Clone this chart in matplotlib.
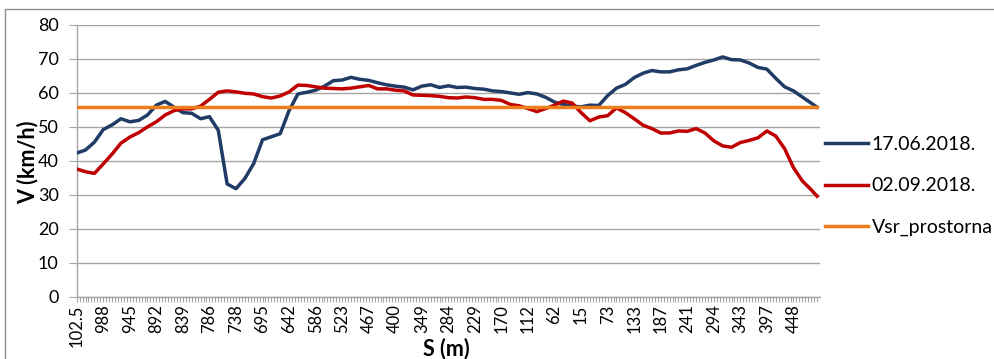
import numpy as np
import matplotlib
matplotlib.use("Agg")
import matplotlib.pyplot as plt
from matplotlib.patches import Rectangle

# Category axis: one category per measurement point, labelled every 9th
N_CATEGORIES = 252
LABEL_STEP = 9
s_labels = ["102.5", "988", "945", "892", "839", "786", "738", "695", "642",
            "586", "523", "467", "400", "349", "284", "229", "170", "112",
            "62", "15", "73", "133", "187", "241", "294", "343", "397", "448"]

# Speed profiles (km/h), sampled every 3rd point of the route plus the last one
v_17_06_2018 = [42.3, 43.2, 45.5, 49.2, 50.6, 52.4, 51.5, 51.9, 53.5, 56.4,
                57.5, 55.8, 54.2, 54.0, 52.4, 53.0, 49.0, 33.2, 31.8, 34.8,
                39.2, 46.2, 47.1, 48.0, 54.8, 59.7, 60.2, 60.8, 62.0, 63.6,
                63.8, 64.6, 64.0, 63.7, 63.0, 62.4, 62.0, 61.7, 60.9, 62.0,
                62.4, 61.6, 62.1, 61.6, 61.7, 61.3, 61.1, 60.6, 60.4, 60.0,
                59.6, 60.1, 59.7, 58.7, 57.3, 56.6, 56.1, 55.9, 56.4, 56.3,
                59.2, 61.4, 62.5, 64.5, 65.8, 66.6, 66.2, 66.2, 66.8, 67.1,
                68.1, 69.0, 69.7, 70.6, 69.8, 69.7, 68.8, 67.5, 67.0, 64.3,
                61.8, 60.6, 58.8, 57.0, 55.8]
v_02_09_2018 = [37.6, 36.8, 36.3, 39.1, 42.0, 45.2, 47.0, 48.3, 50.0, 51.5,
                53.5, 54.8, 55.3, 55.3, 56.1, 58.1, 60.2, 60.6, 60.3, 59.9,
                59.7, 58.9, 58.5, 59.1, 60.3, 62.3, 62.2, 61.8, 61.4, 61.3,
                61.2, 61.4, 61.8, 62.2, 61.2, 61.2, 60.8, 60.6, 59.4, 59.3,
                59.2, 59.0, 58.6, 58.5, 58.8, 58.6, 58.1, 58.1, 57.8, 56.6,
                56.2, 55.4, 54.5, 55.4, 56.4, 57.6, 57.0, 54.2, 51.8, 52.9,
                53.3, 55.6, 54.2, 52.4, 50.5, 49.5, 48.2, 48.2, 48.8, 48.7,
                49.5, 48.2, 45.9, 44.4, 44.0, 45.4, 46.0, 46.8, 48.8, 47.3,
                43.6, 38.0, 34.1, 31.5, 29.6]
v_sr_prostorna = 55.8

series_names = ["17.06.2018.", "02.09.2018.", "Vsr_prostorna"]
series_colors = ["#1F3B66", "#C00000", "#EE7D1C"]

plt.rcParams["font.family"] = ["Lato", "DejaVu Sans"]

fig = plt.figure(figsize=(9.94, 3.59), dpi=100)
W, H = 994, 359
ax = fig.add_axes([76.7 / W, 1 - 296.7 / H, (820 - 76.7) / W, (296.7 - 25) / H])

x_samples = np.r_[np.arange(0, N_CATEGORIES - 2, 3), N_CATEGORIES - 1]
x_all = np.arange(N_CATEGORIES)

ax.plot(x_samples, v_17_06_2018, color=series_colors[0], lw=2.5,
        solid_joinstyle="round", label=series_names[0], zorder=3)
ax.plot(x_samples, v_02_09_2018, color=series_colors[1], lw=2.5,
        solid_joinstyle="round", label=series_names[1], zorder=3)
ax.plot(x_all, np.full(N_CATEGORIES, v_sr_prostorna), color=series_colors[2],
        lw=2.5, label=series_names[2], zorder=3)

ax.set_xlim(0, N_CATEGORIES)
ax.set_ylim(0, 80)
ax.set_yticks(np.arange(0, 81, 10))
ax.yaxis.grid(True, color="#A6A6A6", lw=1.0)
ax.set_axisbelow(True)

major_pos = np.arange(0, len(s_labels) * LABEL_STEP, LABEL_STEP)
ax.set_xticks(major_pos)
ax.set_xticklabels(s_labels, rotation=90, fontsize=12, color="#000000")
ax.set_xticks(x_all, minor=True)
ax.tick_params(axis="x", which="both", length=3.6, width=0.8, color="#A6A6A6",
               pad=2, direction="out")
ax.tick_params(axis="y", which="major", length=6, width=0.8, color="#A6A6A6",
               pad=7, labelsize=13)

for side in ("top", "right"):
    ax.spines[side].set_visible(False)
for side in ("left", "bottom"):
    ax.spines[side].set_color("#A6A6A6")
    ax.spines[side].set_linewidth(1.0)

fig.text(28 / W, 1 - 162 / H, "V (km/h)", rotation=90, fontsize=15.5,
         fontweight="bold", ha="center", va="center")
fig.text(446 / W, 1 - 349 / H, "S (m)", fontsize=15.5, fontweight="bold",
         ha="center", va="center")

ax.legend(loc="center left", bbox_to_anchor=(825 / W, 1 - 186 / H),
          bbox_transform=fig.transFigure, frameon=False, fontsize=14,
          handlelength=2.2, handletextpad=0.2, labelspacing=1.25,
          borderpad=0, borderaxespad=0)

fig.patches.append(Rectangle((5 / W, -0.05), 1.1, 1 - 9 / H + 0.05,
                             transform=fig.transFigure, fill=False,
                             edgecolor="#8C8C8C", lw=1.0))

fig.savefig("out.png", dpi=100)
